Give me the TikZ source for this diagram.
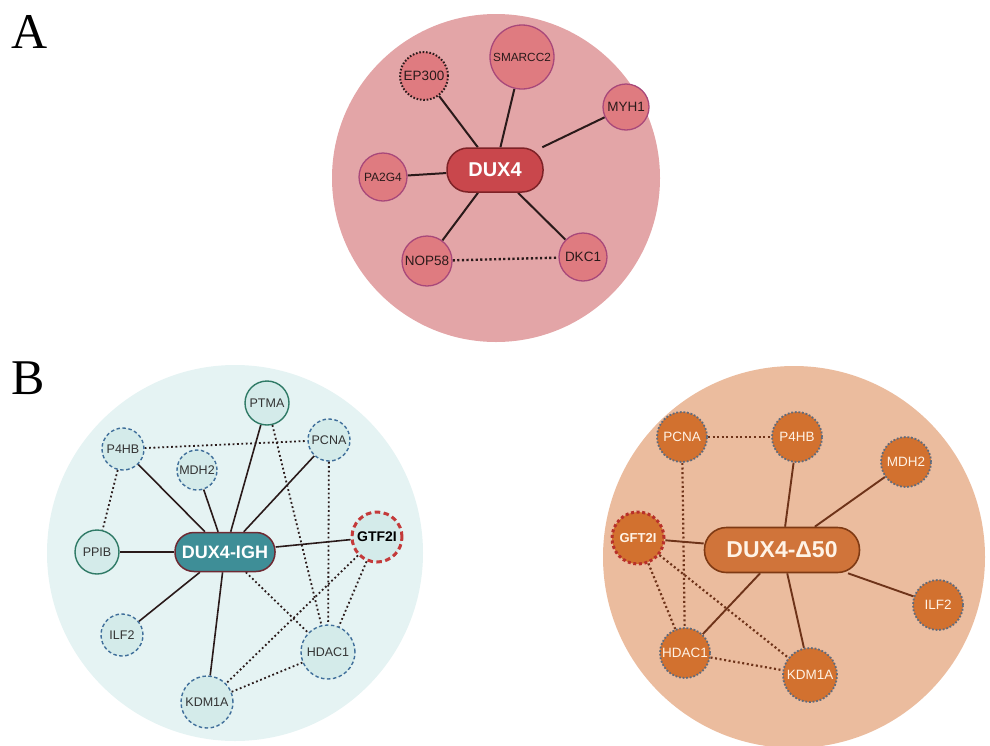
\documentclass[tikz,border=0pt]{standalone}
\usepackage{fontspec}
\setmainfont{Liberation Serif}
\newfontfamily\labfont{Liberation Sans}
\definecolor{Abg}{HTML}{E3A5A7}
\definecolor{Afill}{HTML}{DF7B80}
\definecolor{Aborder}{HTML}{A8487A}
\definecolor{Apill}{HTML}{C9474C}
\definecolor{Apillb}{HTML}{7E2227}
\definecolor{Ledge}{HTML}{2A1A1A}
\definecolor{Lbg}{HTML}{E5F3F3}
\definecolor{Lfill}{HTML}{D4EBEA}
\definecolor{Lsolid}{HTML}{2F7A66}
\definecolor{Ldash}{HTML}{3F6E9A}
\definecolor{Lred}{HTML}{C43A3A}
\definecolor{Lpill}{HTML}{3E8E97}
\definecolor{Lpillb}{HTML}{6E2A33}
\definecolor{Rbg}{HTML}{EBBC9E}
\definecolor{Rfill}{HTML}{D2712F}
\definecolor{Rborder}{HTML}{5F6B7D}
\definecolor{Rred}{HTML}{B8302A}
\definecolor{Rpill}{HTML}{D0743A}
\definecolor{Rpillb}{HTML}{7F3A14}
\definecolor{Redge}{HTML}{6E3319}
\definecolor{Rtext}{HTML}{FFF3E6}
\pgfdeclarelayer{bgl}
\pgfdeclarelayer{edgel}
\pgfsetlayers{bgl,edgel,main}
\newcommand{\fsz}[1]{\labfont\fontsize{#1}{#1}\selectfont}
\tikzset{
  anode/.style={circle, fill=Afill, draw=Aborder, line width=1.3pt, inner sep=0pt,
    minimum size=#1, font=\fsz{13}, text=Ledge},
  adot/.style={anode=#1, draw=Ledge, line width=2pt, dash pattern=on 1.6pt off 1.8pt},
  apill/.style={rectangle, rounded corners=21pt, fill=Apill, draw=Apillb, line width=1.5pt,
    minimum width=96pt, minimum height=44pt, text=white, font=\fsz{20}\bfseries},
  aedge/.style={draw=Ledge, line width=2pt},
  adotted/.style={draw=Ledge, line width=2.4pt, dash pattern=on 2.2pt off 2.4pt},
  lsol/.style={circle, fill=Lfill, draw=Lsolid, line width=1.4pt, inner sep=0pt,
    minimum size=#1, font=\fsz{12.5}, text=black!80},
  ldash/.style={lsol=#1, draw=Ldash, dash pattern=on 3.5pt off 2.5pt},
  lred/.style={lsol=#1, draw=Lred, line width=3pt, dash pattern=on 5.5pt off 3.5pt,
    font=\fsz{14}\bfseries, text=black},
  lpill/.style={rectangle, rounded corners=19pt, fill=Lpill, draw=Lpillb, line width=1.5pt,
    minimum width=100pt, minimum height=39pt, text=white, font=\fsz{18}\bfseries},
  ledge/.style={draw=Ledge, line width=1.6pt},
  ldotted/.style={draw=Ledge, line width=1.8pt, dash pattern=on 1.8pt off 2.6pt},
  rnode/.style={circle, fill=Rfill, draw=Rborder, line width=1.8pt, inner sep=0pt,
    dash pattern=on 1.8pt off 1.8pt, minimum size=#1,
    font=\fsz{13.5}, text=Rtext},
  rred/.style={rnode=#1, draw=Rred, line width=3pt, dash pattern=on 3pt off 2.6pt,
    font=\fsz{13}\bfseries},
  rpill/.style={rectangle, rounded corners=22pt, fill=Rpill, draw=Rpillb, line width=1.6pt,
    minimum width=155pt, minimum height=45pt, text=Rtext, font=\fsz{23}\bfseries},
  redge/.style={draw=Redge, line width=1.9pt},
  rdotted/.style={draw=Redge, line width=2.2pt, dash pattern=on 2pt off 2.6pt},
  panel/.style={font=\fontsize{50}{56}\selectfont, inner sep=0pt, anchor=center}
}
\begin{document}
\begin{tikzpicture}[x=1pt,y=-1pt]
\useasboundingbox (0,0) rectangle (990,745);
\begin{pgfonlayer}{bgl}
  \begin{scope}
    \clip (0,0) rectangle (990,745);
    \fill[Abg] (496,178) circle[radius=164pt];
    \fill[Lbg] (235,553) circle[radius=188pt];
    \fill[Rbg] (794,557) circle[radius=191pt];
  \end{scope}
\end{pgfonlayer}

\node[panel] (labA) at (30,32) {A};
\node[panel] (labB) at (28,378) {B};

% Panel A
\node[apill] (dux4) at (495,170) {DUX4};
\node[adot=48pt, font=\fsz{13.5}] (ep300) at (424,76) {EP300};
\node[anode=64pt, font=\fsz{11.8}] (smarcc2) at (522,57) {SMARCC2};
\node[anode=46pt, font=\fsz{13.5}] (myh1) at (626,107) {MYH1};
\node[anode=48pt, font=\fsz{12}] (pa2g4) at (383,177) {PA2G4};
\node[anode=50pt, font=\fsz{13.5}] (nop58) at (427,261) {NOP58};
\node[anode=48pt, font=\fsz{13.5}] (dkc1) at (583,257) {DKC1};

% Panel B left
\node[lpill] (igh) at (225,552) {DUX4-IGH};
\node[lsol=44pt] (ptma) at (267,403) {PTMA};
\node[ldash=42pt] (lpcna) at (329,440) {PCNA};
\node[ldash=42pt] (lp4hb) at (123,449) {P4HB};
\node[ldash=40pt] (lmdh2) at (197,470) {MDH2};
\node[lred=50pt] (gtf2i) at (377,537) {GTF2I};
\node[lsol=44pt] (ppib) at (97,552) {PPIB};
\node[ldash=42pt] (lilf2) at (122,635) {ILF2};
\node[ldash=54pt] (lhdac1) at (328,652) {HDAC1};
\node[ldash=52pt] (lkdm1a) at (207,702) {KDM1A};

% Panel B right
\node[rpill] (d50) at (782,550) {DUX4-Δ50};
\node[rnode=50pt] (rpcna) at (682,437) {PCNA};
\node[rnode=50pt] (rp4hb) at (797,437) {P4HB};
\node[rnode=50pt] (rmdh2) at (906,462) {MDH2};
\node[rred=52pt] (gft2i) at (638,538) {GFT2I};
\node[rnode=50pt] (rilf2) at (938,605) {ILF2};
\node[rnode=50pt] (rhdac1) at (685,653) {HDAC1};
\node[rnode=54pt] (rkdm1a) at (810,675) {KDM1A};

\begin{pgfonlayer}{edgel}
  % A
  \draw[aedge] (dux4) -- (ep300);
  \draw[aedge] (dux4) -- (smarcc2);
  \draw[aedge] (dux4) -- (myh1);
  \draw[aedge] (dux4) -- (pa2g4);
  \draw[aedge] (dux4) -- (nop58);
  \draw[aedge] (dux4) -- (dkc1);
  \draw[adotted] (nop58) -- (dkc1);
  % B left
  \draw[ledge] (igh) -- (lp4hb);
  \draw[ledge] (igh) -- (lmdh2);
  \draw[ledge] (igh) -- (ptma);
  \draw[ledge] (igh) -- (lpcna);
  \draw[ledge] (igh) -- (gtf2i);
  \draw[ledge] (igh) -- (ppib);
  \draw[ledge] (igh) -- (lilf2);
  \draw[ledge] (igh) -- (lkdm1a);
  \draw[ldotted] (lp4hb) -- (lpcna);
  \draw[ldotted] (lp4hb) -- (ppib);
  \draw[ldotted] (ptma) -- (lhdac1);
  \draw[ldotted] (lpcna) -- (lhdac1);
  \draw[ldotted] (gtf2i) -- (lhdac1);
  \draw[ldotted] (gtf2i) -- (lkdm1a);
  \draw[ldotted] (lkdm1a) -- (lhdac1);
  \draw[ldotted] (igh) -- (lhdac1);
  % B right
  \draw[redge] (d50) -- (rp4hb);
  \draw[redge] (d50) -- (rmdh2);
  \draw[redge] (d50) -- (gft2i);
  \draw[redge] (d50) -- (rilf2);
  \draw[redge] (d50) -- (rhdac1);
  \draw[redge] (d50) -- (rkdm1a);
  \draw[rdotted] (rpcna) -- (rp4hb);
  \draw[rdotted] (rpcna) -- (rhdac1);
  \draw[rdotted] (gft2i) -- (rhdac1);
  \draw[rdotted] (gft2i) -- (rkdm1a);
  \draw[rdotted] (rhdac1) -- (rkdm1a);
\end{pgfonlayer}
\end{tikzpicture}
\end{document}
